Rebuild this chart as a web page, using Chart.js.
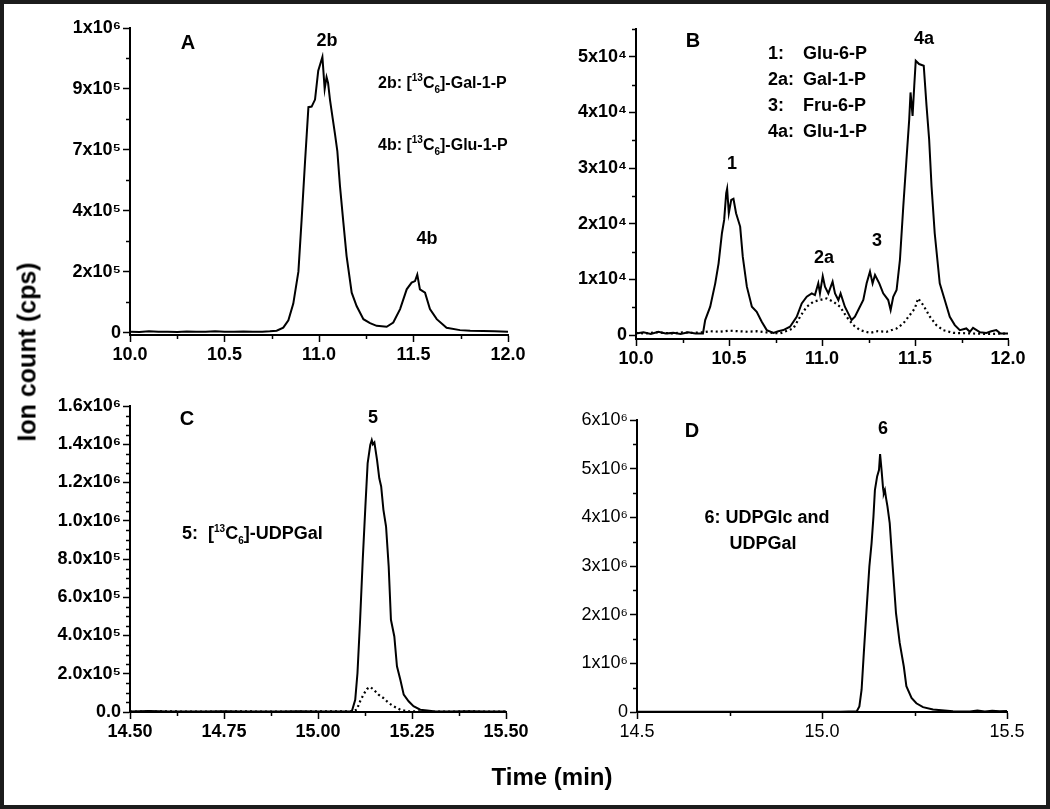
<!DOCTYPE html>
<html><head><meta charset="utf-8">
<script src="https://cdn.jsdelivr.net/npm/chart.js@4.4.1/dist/chart.umd.min.js"></script>
<style>
html,body{margin:0;padding:0;background:#fff;}
#wrap{position:relative;width:1050px;height:809px;overflow:hidden;background:#fff;font-family:"Liberation Sans",Arial,sans-serif;color:#000;}
canvas{position:absolute;}
.t{position:absolute;white-space:nowrap;font-weight:bold;line-height:1;font-size:18px;}
.c{transform:translate(-50%,-50%);}
.l{transform:translate(0,-50%);}
.sp{font-size:10px;position:relative;top:-7px;}
.sb{font-size:10px;position:relative;top:5px;}
#frame{position:absolute;left:0;top:0;width:1050px;height:809px;box-sizing:border-box;border:4px solid #1c1c1c;pointer-events:none;}
</style></head>
<body><div id="wrap">
<canvas id="cA" width="540" height="380" style="left:0;top:0"></canvas>
<canvas id="cB" width="525" height="380" style="left:525px;top:0"></canvas>
<canvas id="cC" width="560" height="429" style="left:0;top:380px"></canvas>
<canvas id="cD" width="525" height="429" style="left:525px;top:380px"></canvas>

<div class="t c" style="left:188px;top:42px;font-size:20px">A</div>
<div class="t c" style="left:327px;top:40px">2b</div>
<div class="t l" style="left:378px;top:83px;font-size:16px">2b: [<span class="sp">13</span>C<span class="sb">6</span>]-Gal-1-P</div>
<div class="t l" style="left:378px;top:145px;font-size:16px">4b: [<span class="sp">13</span>C<span class="sb">6</span>]-Glu-1-P</div>
<div class="t c" style="left:427px;top:238px">4b</div>

<div class="t c" style="left:693px;top:40px;font-size:20px">B</div>
<div class="t c" style="left:924px;top:38px">4a</div>
<div class="t l" style="left:768px;top:53px">1:</div><div class="t l" style="left:803px;top:53px">Glu-6-P</div>
<div class="t l" style="left:768px;top:79px">2a:</div><div class="t l" style="left:803px;top:79px">Gal-1-P</div>
<div class="t l" style="left:768px;top:105px">3:</div><div class="t l" style="left:803px;top:105px">Fru-6-P</div>
<div class="t l" style="left:768px;top:131px">4a:</div><div class="t l" style="left:803px;top:131px">Glu-1-P</div>
<div class="t c" style="left:732px;top:163px">1</div>
<div class="t c" style="left:824px;top:257px">2a</div>
<div class="t c" style="left:877px;top:240px">3</div>

<div class="t c" style="left:187px;top:418px;font-size:20px">C</div>
<div class="t c" style="left:373px;top:417px">5</div>
<div class="t l" style="left:182px;top:533px">5:&nbsp; [<span class="sp">13</span>C<span class="sb">6</span>]-UDPGal</div>

<div class="t c" style="left:692px;top:430px;font-size:20px">D</div>
<div class="t c" style="left:883px;top:428px">6</div>
<div class="t c" style="left:767px;top:517px">6: UDPGlc and</div>
<div class="t c" style="left:763px;top:543px">UDPGal</div>

<div class="t c" style="left:27px;top:352px;font-size:25px;transform:translate(-50%,-50%) rotate(-90deg)">Ion count (cps)</div>
<div class="t c" style="left:552px;top:777px;font-size:24px">Time (min)</div>
<div id="frame"></div>
</div>
<script>
// ---------- Panel A ----------
const timeA = [10.00,10.05,10.10,10.15,10.20,10.25,10.30,10.35,10.40,10.45,10.50,10.55,10.60,10.65,10.70,10.74,10.776,10.811,10.838,10.864,10.891,10.908,10.926,10.944,10.961,10.979,10.996,11.018,11.030,11.040,11.048,11.058,11.072,11.085,11.097,11.111,11.129,11.146,11.173,11.199,11.235,11.270,11.305,11.358,11.393,11.429,11.464,11.490,11.508,11.520,11.534,11.561,11.587,11.623,11.675,11.746,11.80,11.869,11.93,12.00];
const ionA  = [3000,2000,4000,2500,3000,2000,3500,2500,3000,4000,2500,3000,3500,2500,3000,4000,6000,16000,40000,95000,200000,370000,560000,740000,742000,765000,860000,905000,800000,839000,820000,765000,705000,650000,596000,481000,361000,251000,131000,87000,44000,31000,22000,19000,33000,77000,142000,164000,169000,190000,142000,131000,77000,44000,16000,8000,6000,5000,4000,3000];
const xTicksA = [10.0,10.5,11.0,11.5,12.0];
const xLabelsA = ['10.0','10.5','11.0','11.5','12.0'];
const yTicksA = [0,200000,400000,600000,800000,1000000];
const yLabelsA = ['0','2x10⁵','4x10⁵','7x10⁵','9x10⁵','1x10⁶'];

// ---------- Panel B ----------
const timeB1 = [10.00,10.04,10.08,10.12,10.16,10.20,10.24,10.28,10.32,10.36,10.372,10.399,10.426,10.444,10.462,10.474,10.485,10.490,10.499,10.512,10.524,10.538,10.560,10.574,10.596,10.623,10.649,10.676,10.703,10.739,10.765,10.792,10.828,10.864,10.891,10.918,10.945,10.962,10.980,10.989,11.004,11.016,11.034,11.057,11.070,11.088,11.100,11.123,11.141,11.159,11.177,11.195,11.222,11.240,11.258,11.272,11.285,11.308,11.329,11.356,11.369,11.383,11.401,11.419,11.437,11.454,11.469,11.476,11.487,11.496,11.504,11.522,11.547,11.562,11.576,11.589,11.606,11.633,11.660,11.687,11.714,11.741,11.776,11.795,11.812,11.85,11.884,11.91,11.937,11.96,12.00];
const ionB1  = [300,500,200,600,300,400,200,500,300,300,2700,5100,9300,12900,18300,20700,25500,26300,21900,24300,24500,21900,19500,14100,8700,5100,4200,2400,900,400,700,900,1500,3300,5700,6900,7500,7200,9300,7500,10600,8700,7500,9600,7500,6300,7500,5100,3900,2700,3300,4500,6300,9300,11400,9300,10800,9300,7500,6300,4500,6900,8100,13500,23100,31500,38800,43600,39400,44800,49300,48700,48400,41200,35200,26700,18300,9300,6300,3300,1800,900,1200,600,1300,500,400,700,900,300,300];
const timeB2 = [10.00,10.05,10.10,10.15,10.20,10.25,10.30,10.36,10.40,10.45,10.50,10.55,10.60,10.65,10.70,10.775,10.846,10.882,10.918,10.953,10.989,11.025,11.061,11.097,11.132,11.168,11.204,11.258,11.30,11.347,11.401,11.437,11.472,11.499,11.517,11.544,11.580,11.615,11.651,11.705,11.80,11.90,12.00];
const ionB2  = [400,300,500,400,300,500,400,500,700,600,800,700,600,700,500,300,1200,3300,5100,6000,6300,6600,6000,5100,3300,1800,900,400,700,600,1200,2100,3600,4800,6600,5400,3300,1800,900,400,300,200,300];
const xTicksB = [10.0,10.5,11.0,11.5,12.0];
const xLabelsB = ['10.0','10.5','11.0','11.5','12.0'];
const yTicksB = [0,10000,20000,30000,40000,50000];
const yLabelsB = ['0','1x10⁴','2x10⁴','3x10⁴','4x10⁴','5x10⁴'];

// ---------- Panel C ----------
const timeC1 = [14.50,14.55,14.60,14.65,14.70,14.75,14.80,14.85,14.90,14.95,15.00,15.05,15.090,15.099,15.105,15.112,15.119,15.126,15.132,15.139,15.143,15.146,15.150,15.157,15.163,15.168,15.174,15.181,15.188,15.194,15.203,15.210,15.219,15.228,15.241,15.254,15.272,15.29,15.307,15.35,15.40,15.45,15.50];
const ionC1  = [3000,5000,2000,3000,2000,4000,2500,3000,2000,4000,3000,2500,3500,64000,204000,482000,796000,1074000,1300000,1396000,1422000,1400000,1410000,1318000,1222000,1179000,1057000,970000,761000,482000,395000,239000,169000,91000,56000,30000,12000,8000,3500,3000,4000,2000,3000];
const timeC2 = [14.50,14.60,14.70,14.80,14.90,15.00,15.09,15.103,15.112,15.121,15.130,15.139,15.148,15.161,15.174,15.188,15.201,15.219,15.236,15.30,15.40,15.50];
const ionC2  = [2000,3000,2000,3000,2000,3000,3000,12000,56000,91000,120000,131000,117000,91000,73000,47000,30000,12000,3500,2000,3000,2000];
const xTicksC = [14.50,14.75,15.00,15.25,15.50];
const xLabelsC = ['14.50','14.75','15.00','15.25','15.50'];
const yTicksC = [0,200000,400000,600000,800000,1000000,1200000,1400000,1600000];
const yLabelsC = ['0.0','2.0x10⁵','4.0x10⁵','6.0x10⁵','8.0x10⁵','1.0x10⁶','1.2x10⁶','1.4x10⁶','1.6x10⁶'];

// ---------- Panel D ----------
const timeD = [14.50,14.60,14.70,14.80,14.90,15.00,15.05,15.094,15.101,15.107,15.113,15.121,15.128,15.134,15.139,15.143,15.149,15.154,15.157,15.161,15.165,15.167,15.170,15.173,15.177,15.183,15.191,15.200,15.210,15.221,15.228,15.242,15.255,15.273,15.300,15.354,15.40,15.42,15.44,15.46,15.48,15.50];
const ionD  = [5000,5000,5000,5000,5000,5000,5000,14000,116000,458000,1210000,2170000,2990000,3470000,4010000,4560000,4840000,4970000,5300000,4970000,4600000,4490000,4560000,4400000,4220000,3880000,2990000,2030000,1420000,940000,530000,290000,180000,100000,50000,14000,10000,30000,12000,25000,15000,20000];
const xTicksD = [14.5,15.0,15.5];
const xLabelsD = ['14.5','15.0','15.5'];
const yTicksD = [0,1000000,2000000,3000000,4000000,5000000,6000000];
const yLabelsD = ['0','1x10⁶','2x10⁶','3x10⁶','4x10⁶','5x10⁶','6x10⁶'];

function steps(a, b, s){ const out=[]; for(let v=a; v<=b+1e-9; v+=s){ out.push(+v.toFixed(6)); } return out; }
function pts(xs, ys){ return xs.map((x,i)=>({x:x, y:ys[i]})); }

const minorPlugin = {
  id: 'minorTicks',
  afterDraw(chart, args, opts){
    const c = chart.ctx, xs = chart.scales.x, ys = chart.scales.y, a = chart.chartArea;
    c.save(); c.strokeStyle = '#000'; c.lineWidth = 1.5;
    (opts.x||[]).forEach(v=>{ const p = Math.round(xs.getPixelForValue(v))+0.5; c.beginPath(); c.moveTo(p, a.bottom); c.lineTo(p, a.bottom+4); c.stroke(); });
    (opts.y||[]).forEach(v=>{ const p = Math.round(ys.getPixelForValue(v))+0.5; c.beginPath(); c.moveTo(a.left, p); c.lineTo(a.left-4, p); c.stroke(); });
    c.restore();
  }
};

function makeChart(id, cfg){
  const font = {family:'"Liberation Sans", Arial, sans-serif', size: cfg.fontSize||18, weight: cfg.bold===false ? 'normal' : 'bold'};
  return new Chart(document.getElementById(id), {
    type: 'line',
    data: { datasets: cfg.datasets },
    options: {
      responsive:false, animation:false, devicePixelRatio:1,
      layout:{ padding:{ left:0, right:cfg.padRight, top:cfg.padTop, bottom:0 } },
      plugins:{ legend:{display:false}, tooltip:{enabled:false}, minorTicks:{ x:cfg.xMinor, y:cfg.yMinor } },
      elements:{ point:{radius:0}, line:{tension:0} },
      scales:{
        x:{ type:'linear', min:cfg.xMin, max:cfg.xMax,
          afterBuildTicks: s=>{ s.ticks = cfg.xTicks.map(v=>({value:v})); },
          afterFit: s=>{ s.height = cfg.xHeight; s.paddingLeft = 0; s.paddingRight = 0; },
          ticks:{ callback:(v,i)=>cfg.xLabels[i], font:font, color:'#000', padding:2, maxRotation:0, autoSkip:false },
          grid:{ drawOnChartArea:false, tickLength:7, tickWidth:1.5, tickColor:'#000' },
          border:{ color:'#000', width:2 } },
        y:{ type:'linear', min:cfg.yMin, max:cfg.yMax,
          afterBuildTicks: s=>{ s.ticks = cfg.yTicks.map(v=>({value:v})); },
          afterFit: s=>{ s.width = cfg.yWidth; s.paddingTop = 0; s.paddingBottom = 0; },
          ticks:{ callback:(v,i)=>cfg.yLabels[i], font:font, color:'#000', padding:2, autoSkip:false },
          grid:{ drawOnChartArea:false, tickLength:7, tickWidth:1.5, tickColor:'#000' },
          border:{ color:'#000', width:2 } }
      }
    },
    plugins:[minorPlugin]
  });
}
const solid = {borderColor:'#000', borderWidth:2, fill:false, pointRadius:0};
const dotted = {borderColor:'#000', borderWidth:2.2, borderDash:[2,3], fill:false, pointRadius:0};

makeChart('cA', { datasets:[Object.assign({data:pts(timeA, ionA)}, solid)],
  xMin:10, xMax:12, yMin:-8000, yMax:1000000, xTicks:xTicksA, xLabels:xLabelsA, yTicks:yTicksA, yLabels:yLabelsA,
  xMinor:[10.25,10.75,11.25,11.75], yMinor:[100000,300000,500000,700000,900000],
  padRight:32, padTop:28, xHeight:45, yWidth:130 });
makeChart('cB', { datasets:[Object.assign({data:pts(timeB1, ionB1)}, solid), Object.assign({data:pts(timeB2, ionB2)}, dotted)],
  xMin:10, xMax:12, yMin:-700, yMax:55000, xTicks:xTicksB, xLabels:xLabelsB, yTicks:yTicksB, yLabels:yLabelsB,
  xMinor:[10.25,10.75,11.25,11.75], yMinor:[5000,15000,25000,35000,45000,55000],
  padRight:42, padTop:29, xHeight:41, yWidth:111 });
makeChart('cC', { datasets:[Object.assign({data:pts(timeC1, ionC1)}, solid), Object.assign({data:pts(timeC2, ionC2)}, dotted)],
  xMin:14.5, xMax:15.5, yMin:0, yMax:1600000, xTicks:xTicksC, xLabels:xLabelsC, yTicks:yTicksC, yLabels:yLabelsC,
  xMinor:[14.625,14.875,15.125,15.375], yMinor:steps(50000,1550000,50000).filter(v=>v%200000!==0),
  padRight:54, padTop:26, xHeight:97, yWidth:130 });
makeChart('cD', { datasets:[Object.assign({data:pts(timeD, ionD)}, solid)],
  xMin:14.5, xMax:15.5, yMin:0, yMax:6000000, xTicks:xTicksD, xLabels:xLabelsD, yTicks:yTicksD, yLabels:yLabelsD,
  xMinor:[14.75,15.25], yMinor:[500000,1500000,2500000,3500000,4500000,5500000],
  padRight:43, padTop:40, xHeight:97, yWidth:112, bold:false });
</script>
</body></html>
